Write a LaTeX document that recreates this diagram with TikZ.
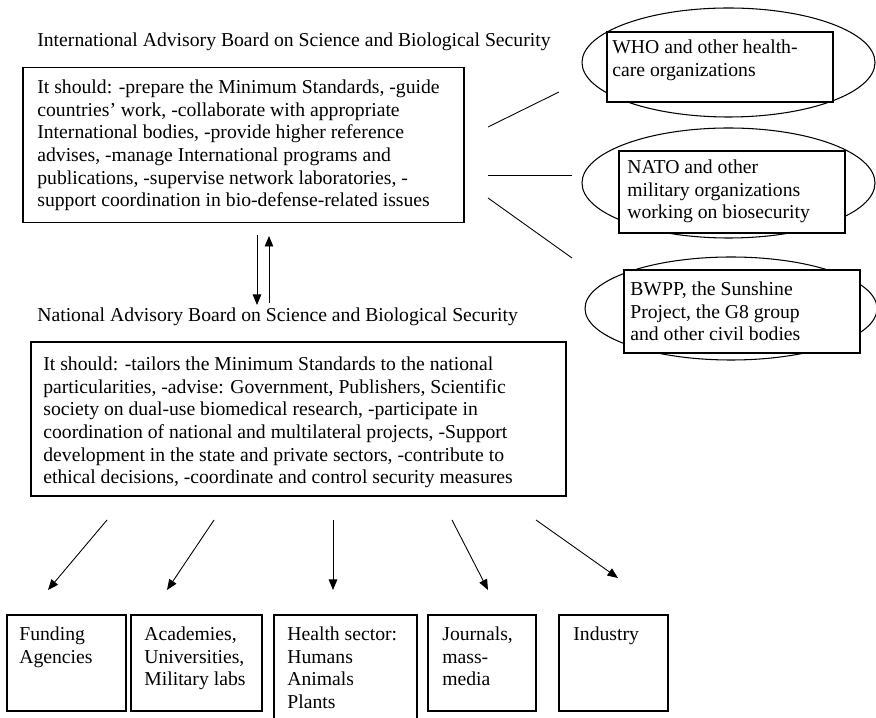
\documentclass[tikz,border=0pt]{standalone}
\usepackage{fontspec}
\setmainfont{Liberation Serif}
\usetikzlibrary{arrows.meta,shapes.geometric}

\begin{document}
\begin{tikzpicture}[
        font=\fontsize{11.2}{12.9}\selectfont,
        board/.style={draw, rectangle, line width=0.6pt},
        org/.style={draw, ellipse, line width=0.6pt},
        orgbox/.style={draw, rectangle, fill=white, line width=0.6pt},
        unit/.style={draw, rectangle, line width=0.6pt, minimum height=1.92cm},
        txt/.style={align=left, inner sep=0pt, anchor=north west},
        link/.style={line width=0.5pt},
        flow/.style={-{Triangle[length=2.1mm,width=1.7mm]}, line width=0.5pt}
    ]
        \clip (0,0) rectangle (17.52,-14.36);

        % international board
        \node[anchor=base west, inner sep=0pt] (inttitle) at (0.74,-0.94) {International Advisory Board on Science and Biological Security};
        \node[board, minimum width=8.82cm, minimum height=3.09cm] (intl) at (4.87,-2.90) {};
        \node[txt] (intltext) at (0.74,-1.59) {It should: -prepare the Minimum Standards, -guide\\
            countries' work, -collaborate with appropriate\\
            International bodies, -provide higher reference\\
            advises, -manage International programs and\\
            publications, -supervise network laboratories, -\\
            support coordination in bio-defense-related issues};

        % national board
        \node[anchor=base west, inner sep=0pt] (nattitle) at (0.74,-6.44) {National Advisory Board on Science and Biological Security};
        \node[board, minimum width=10.70cm, minimum height=3.08cm] (nat) at (5.97,-8.38) {};
        \node[txt] (nattext) at (0.86,-7.13) {It should: -tailors the Minimum Standards to the national\\
            particularities, -advise: Government, Publishers, Scientific\\
            society on dual-use biomedical research, -participate in\\
            coordination of national and multilateral projects, -Support\\
            development in the state and private sectors, -contribute to\\
            ethical decisions, -coordinate and control security measures};

        \coordinate (down-s) at (5.14,-4.70);
        \coordinate (down-t) at (5.14,-6.10);
        \coordinate (up-s) at (5.38,-6.06);
        \coordinate (up-t) at (5.38,-4.72);
        \draw[flow] (down-s) -- (down-t);
        \draw[flow] (up-s) -- (up-t);

        % partner organizations
        \node[org, minimum width=5.86cm, minimum height=2.18cm] (who) at (14.57,-1.25) {};
        \node[orgbox, minimum width=4.52cm, minimum height=1.40cm] (whobox) at (14.40,-1.34) {};
        \node[txt] (whotext) at (12.24,-0.79) {WHO and other health-\\care organizations};

        \node[org, minimum width=5.86cm, minimum height=2.20cm] (nato) at (14.57,-3.66) {};
        \node[orgbox, minimum width=4.52cm, minimum height=1.64cm] (natobox) at (14.64,-3.84) {};
        \node[txt] (natotext) at (12.54,-3.19) {NATO and other\\military organizations\\working on biosecurity};

        \node[org, minimum width=5.84cm, minimum height=2.06cm] (civil) at (14.62,-6.17) {};
        \node[orgbox, minimum width=4.72cm, minimum height=1.66cm] (civilbox) at (14.84,-6.23) {};
        \node[txt] (civiltext) at (12.60,-5.63) {BWPP, the Sunshine\\Project, the G8 group\\and other civil bodies};

        \coordinate (who-s) at (9.76,-2.54);
        \coordinate (who-t) at (11.18,-1.84);
        \coordinate (nato-s) at (9.76,-3.50);
        \coordinate (nato-t) at (11.44,-3.50);
        \coordinate (civil-s) at (9.76,-3.96);
        \coordinate (civil-t) at (11.44,-5.16);
        \draw[link] (who-s) -- (who-t);
        \draw[link] (nato-s) -- (nato-t);
        \draw[link] (civil-s) -- (civil-t);

        % national targets
        \node[unit, minimum width=2.38cm] (fund) at (1.33,-13.26) {};
        \node[unit, minimum width=2.62cm] (acad) at (3.93,-13.26) {};
        \node[draw, rectangle, line width=0.6pt, minimum width=2.86cm, minimum height=2.50cm] (health) at (6.91,-13.55) {};
        \node[unit, minimum width=2.16cm] (press) at (9.64,-13.26) {};
        \node[unit, minimum width=2.18cm] (industry) at (12.27,-13.26) {};

        \node[txt] (fundtext) at (0.38,-12.53) {Funding\\Agencies};
        \node[txt] (acadtext) at (2.88,-12.53) {Academies,\\Universities,\\Military labs};
        \node[txt] (healthtext) at (5.74,-12.53) {Health sector:\\Humans\\Animals\\Plants};
        \node[txt] (presstext) at (8.84,-12.53) {Journals,\\mass-\\media};
        \node[txt] (industrytext) at (11.46,-12.53) {Industry};

        \coordinate (fund-s) at (2.14,-10.40);
        \coordinate (fund-t) at (0.96,-11.80);
        \coordinate (acad-s) at (4.28,-10.40);
        \coordinate (acad-t) at (3.34,-11.80);
        \coordinate (health-s) at (6.66,-10.40);
        \coordinate (health-t) at (6.66,-11.80);
        \coordinate (press-s) at (9.04,-10.40);
        \coordinate (press-t) at (9.76,-11.80);
        \coordinate (industry-s) at (10.72,-10.40);
        \coordinate (industry-t) at (12.36,-11.56);
        \draw[flow] (fund-s) -- (fund-t);
        \draw[flow] (acad-s) -- (acad-t);
        \draw[flow] (health-s) -- (health-t);
        \draw[flow] (press-s) -- (press-t);
        \draw[flow] (industry-s) -- (industry-t);
    \end{tikzpicture}
\end{document}
